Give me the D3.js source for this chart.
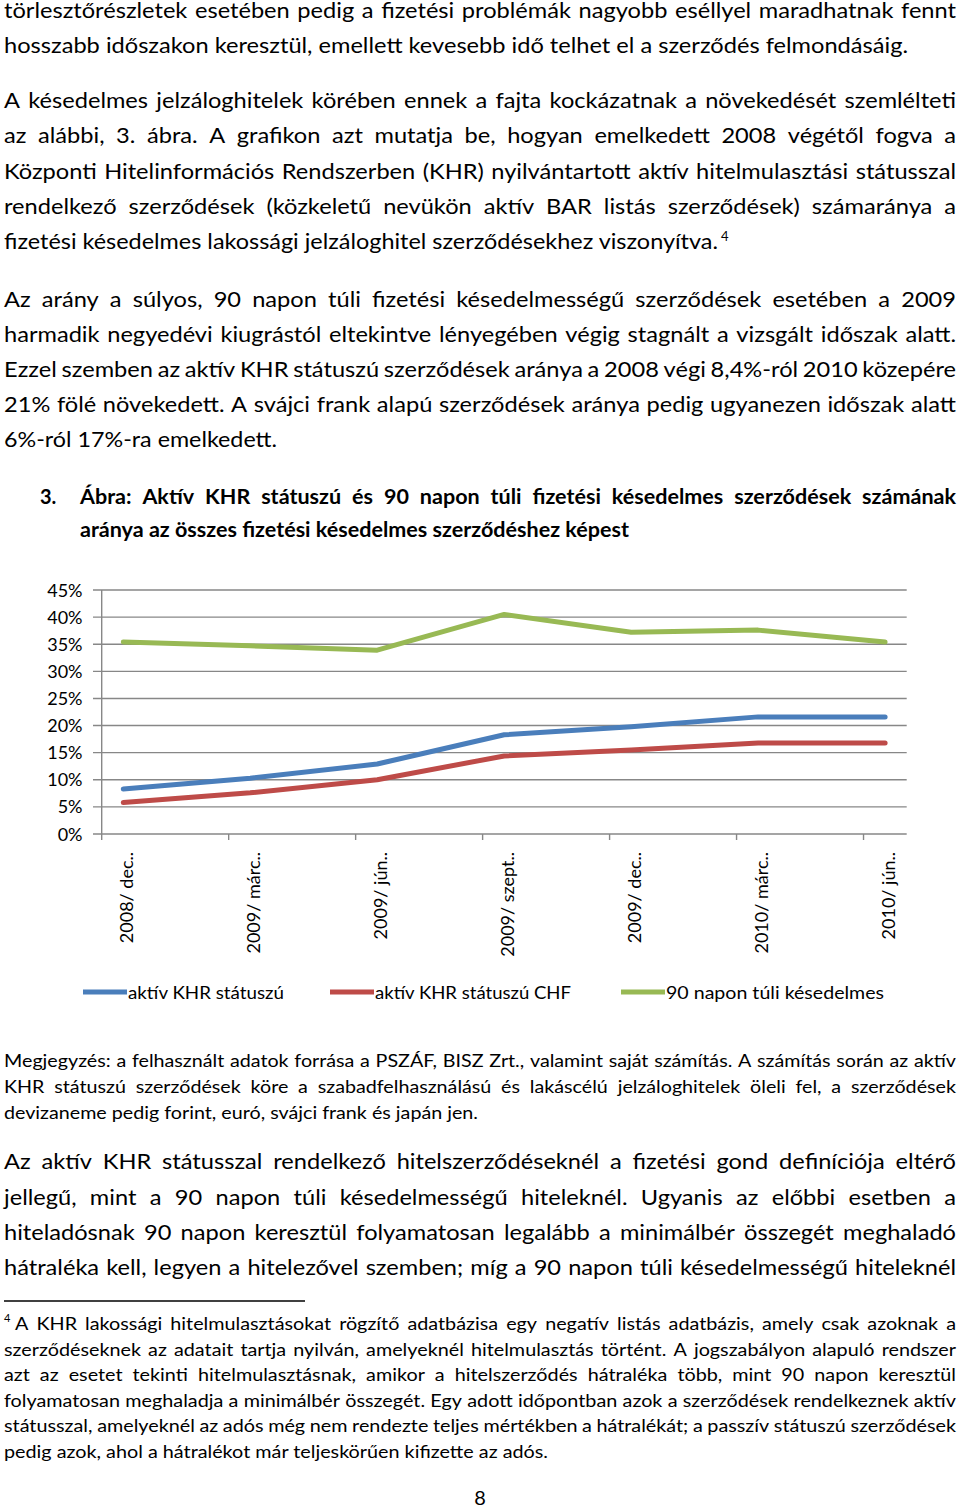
<!DOCTYPE html>
<html lang="hu">
<head>
<meta charset="utf-8">
<title>3. ábra</title>
<script src="https://d3js.org/d3.v7.min.js"></script>
<style>
  html, body { margin: 0; padding: 0; background: #fff; }
  svg { display: block; font-family: Lato, "Open Sans", sans-serif; }
</style>
</head>
<body>
<script>
// chart data
var categories = ["2008/ dec..", "2009/ márc..", "2009/ jún..", "2009/ szept..", "2009/ dec..", "2010/ márc..", "2010/ jún.."];
var khrActive = [0.083, 0.103, 0.129, 0.183, 0.198, 0.216, 0.216];
var khrChf    = [0.058, 0.076, 0.100, 0.144, 0.155, 0.168, 0.168];
var over90    = [0.354, 0.347, 0.339, 0.405, 0.372, 0.376, 0.354];
var yTicks = [0, 0.05, 0.10, 0.15, 0.20, 0.25, 0.30, 0.35, 0.40, 0.45];
var seriesNames = ["aktív KHR státuszú", "aktív KHR státuszú CHF", "90 napon túli késedelmes"];
var seriesColors = ["#4a7ebb", "#be4b48", "#98b954"];

// page text, one entry per printed line: [text, baseline, justified or end x]
var topLines = [
  ["törlesztőrészletek esetében pedig a fizetési problémák nagyobb eséllyel maradhatnak fennt", 18, true],
  ["hosszabb időszakon keresztül, emellett kevesebb idő telhet el a szerződés felmondásáig.", 52.5, 908],
  ["A késedelmes jelzáloghitelek körében ennek a fajta kockázatnak a növekedését szemlélteti", 108, true],
  ["az alábbi, 3. ábra. A grafikon azt mutatja be, hogyan emelkedett 2008 végétől fogva a", 143, true],
  ["Központi Hitelinformációs Rendszerben (KHR) nyilvántartott aktív hitelmulasztási státusszal", 178.5, true],
  ["rendelkező szerződések (közkeletű nevükön aktív BAR listás szerződések) számaránya a", 213.5, true],
  ["fizetési késedelmes lakossági jelzáloghitel szerződésekhez viszonyítva.", 248.5, 718],
  ["Az arány a súlyos, 90 napon túli fizetési késedelmességű szerződések esetében a 2009", 306.5, true],
  ["harmadik negyedévi kiugrástól eltekintve lényegében végig stagnált a vizsgált időszak alatt.", 342, true],
  ["Ezzel szemben az aktív KHR státuszú szerződések aránya a 2008 végi 8,4%-ról 2010 közepére", 377, true],
  ["21% fölé növekedett. A svájci frank alapú szerződések aránya pedig ugyanezen időszak alatt", 412, true],
  ["6%-ról 17%-ra emelkedett.", 447, 277]
];
var captionLines = [
  ["Ábra: Aktív KHR státuszú és 90 napon túli fizetési késedelmes szerződések számának", 504, true],
  ["aránya az összes fizetési késedelmes szerződéshez képest", 537, 629]
];
var noteLines = [
  ["Megjegyzés: a felhasznált adatok forrása a PSZÁF, BISZ Zrt., valamint saját számítás. A számítás során az aktív", 1067, true],
  ["KHR státuszú szerződések köre a szabadfelhasználású és lakáscélú jelzáloghitelek öleli fel, a szerződések", 1093, true],
  ["devizaneme pedig forint, euró, svájci frank és japán jen.", 1118.5, 478]
];
var paraLines = [
  ["Az aktív KHR státusszal rendelkező hitelszerződéseknél a fizetési gond definíciója eltérő", 1169, true],
  ["jellegű, mint a 90 napon túli késedelmességű hiteleknél. Ugyanis az előbbi esetben a", 1204.5, true],
  ["hiteladósnak 90 napon keresztül folyamatosan legalább a minimálbér összegét meghaladó", 1240, true],
  ["hátraléka kell, legyen a hitelezővel szemben; míg a 90 napon túli késedelmességű hiteleknél", 1275, true]
];
var footLines = [
  ["A KHR lakossági hitelmulasztásokat rögzítő adatbázisa egy negatív listás adatbázis, amely csak azoknak a", 1330, true],
  ["szerződéseknek az adatait tartja nyilván, amelyeknél hitelmulasztás történt. A jogszabályon alapuló rendszer", 1355.5, true],
  ["azt az esetet tekinti hitelmulasztásnak, amikor a hitelszerződés hátraléka több, mint 90 napon keresztül", 1381, true],
  ["folyamatosan meghaladja a minimálbér összegét. Egy adott időpontban azok a szerződések rendelkeznek aktív", 1406.5, true],
  ["státusszal, amelyeknél az adós még nem rendezte teljes mértékben a hátralékát; a passzív státuszú szerződések", 1432, true],
  ["pedig azok, ahol a hátralékot már teljeskörűen kifizette az adós.", 1457.5, 548]
];

var width = 960, height = 1509;
var LEFT = 4, RIGHT = 956;
var BODY = 21, SMALL = 17.5, CAP = 20;

var svg = d3.select("body").append("svg")
    .attr("width", width)
    .attr("height", height);
svg.append("rect").attr("width", width).attr("height", height).attr("fill", "#fff");

var probe = svg.append("text").attr("x", -2000).attr("y", -2000);
function textW(s, size, weight) {
    probe.attr("font-size", size).attr("font-weight", weight || 400).text(s);
    return probe.node().getComputedTextLength();
}

// one printed line; justified lines are laid out word by word,
// words widened by k so they match the original font's widths
function writeLine(str, x0, x1, y, size, justify, weight, k) {
    weight = weight || 400;
    k = k || 1;
    if (!justify) {
        var t = svg.append("text").attr("x", x0).attr("y", y)
            .attr("font-size", size).attr("font-weight", weight).text(str);
        if (x1) t.attr("textLength", x1 - x0).attr("lengthAdjust", "spacingAndGlyphs");
        return;
    }
    var words = str.split(" ");
    var ws = words.map(function(w) { return textW(w, size, weight); });
    var sum = d3.sum(ws);
    var minGap = size * 0.2;
    var gap = (x1 - x0 - sum * k) / (words.length - 1);
    if (gap < minGap) {
        k = (x1 - x0 - minGap * (words.length - 1)) / sum;
        gap = minGap;
    }
    var x = x0;
    words.forEach(function(w, i) {
        var t = svg.append("text").attr("x", x).attr("y", y)
            .attr("font-size", size).attr("font-weight", weight).text(w);
        if (k !== 1) t.attr("textLength", ws[i] * k).attr("lengthAdjust", "spacingAndGlyphs");
        x += ws[i] * k + gap;
    });
}

// width ratio taken from the block's unjustified line
function block(lines, x0, size, weight, refLine, refX0) {
    var r = (refLine[2] - (refX0 || x0)) / textW(refLine[0], size, weight);
    lines.forEach(function(l) {
        var just = l[2] === true;
        writeLine(l[0], x0, just ? RIGHT : l[2], l[1], size, just, weight, r);
    });
    return r;
}

block(topLines, LEFT, BODY, 400, topLines[1]);
svg.append("text").attr("x", 721).attr("y", 241).attr("font-size", 13).text("4");

svg.append("text").attr("x", 40).attr("y", 504).attr("font-size", CAP)
    .attr("font-weight", 700).text("3.");
block(captionLines, 80, CAP, 700, captionLines[1]);

// ---- chart ----
var x = d3.scaleLinear().domain([-0.17, 6.17]).range([101.7, 906.7]);
var y = d3.scaleLinear().domain([0, 0.45]).range([834, 590]);
var chart = svg.append("g");

chart.selectAll(".grid").data(yTicks).enter().append("line")
    .attr("x1", 93).attr("x2", x(6.17))
    .attr("y1", function(d) { return y(d); })
    .attr("y2", function(d) { return y(d); })
    .attr("stroke", "#878787").attr("stroke-width", 1.4);

chart.append("line")
    .attr("x1", x(-0.17)).attr("x2", x(-0.17))
    .attr("y1", y(0.45)).attr("y2", y(0))
    .attr("stroke", "#878787").attr("stroke-width", 1.4);

chart.selectAll(".tick").data(d3.range(7)).enter().append("line")
    .attr("x1", function(d) { return x(d - 0.17); })
    .attr("x2", function(d) { return x(d - 0.17); })
    .attr("y1", y(0)).attr("y2", y(0) + 6)
    .attr("stroke", "#878787").attr("stroke-width", 1.4);

chart.selectAll(".ylab").data(yTicks).enter().append("text")
    .attr("x", 82.5)
    .attr("y", function(d) { return y(d) + 6.5; })
    .attr("text-anchor", "end")
    .attr("font-size", 18)
    .attr("fill", "#000")
    .text(d3.format(".0%"));

chart.selectAll(".xlab").data(categories).enter().append("text")
    .attr("transform", function(d, i) { return "translate(" + (x(i) + 9.5) + ",852) rotate(-90)"; })
    .attr("text-anchor", "end")
    .attr("font-size", 18)
    .text(function(d) { return d; });

var line = d3.line()
    .x(function(d, i) { return x(i); })
    .y(function(d) { return y(d); });

[khrActive, khrChf, over90].forEach(function(s, i) {
    chart.append("path")
        .attr("d", line(s))
        .attr("fill", "none")
        .attr("stroke", seriesColors[i])
        .attr("stroke-width", 5)
        .attr("stroke-linejoin", "round")
        .attr("stroke-linecap", "round");
});

// legend
var legX = [83, 330, 621];
var legEnd = [284, 571, 884];
seriesNames.forEach(function(n, i) {
    chart.append("line")
        .attr("x1", legX[i]).attr("x2", legX[i] + 44)
        .attr("y1", 992).attr("y2", 992)
        .attr("stroke", seriesColors[i]).attr("stroke-width", 5);
    chart.append("text")
        .attr("x", legX[i] + 45).attr("y", 998.5)
        .attr("font-size", 17.5)
        .attr("textLength", legEnd[i] - legX[i] - 45)
        .attr("lengthAdjust", "spacingAndGlyphs")
        .text(n);
});

// ---- text below the chart ----
block(noteLines, LEFT, SMALL, 400, noteLines[2]);
block(paraLines, LEFT, BODY, 400, topLines[1]);

svg.append("line").attr("x1", 4).attr("x2", 305).attr("y1", 1301).attr("y2", 1301)
    .attr("stroke", "#000").attr("stroke-width", 1.3);
svg.append("text").attr("x", 4).attr("y", 1322).attr("font-size", 11).text("4");
var footR = (footLines[5][2] - LEFT) / textW(footLines[5][0], SMALL, 400);
writeLine(footLines[0][0], 15, RIGHT, footLines[0][1], SMALL, true, 400, footR);
block(footLines.slice(1), LEFT, SMALL, 400, footLines[5]);

svg.append("text").attr("x", 480).attr("y", 1505).attr("text-anchor", "middle")
    .attr("font-size", 20).text("8");

probe.remove();
</script>
</body>
</html>
